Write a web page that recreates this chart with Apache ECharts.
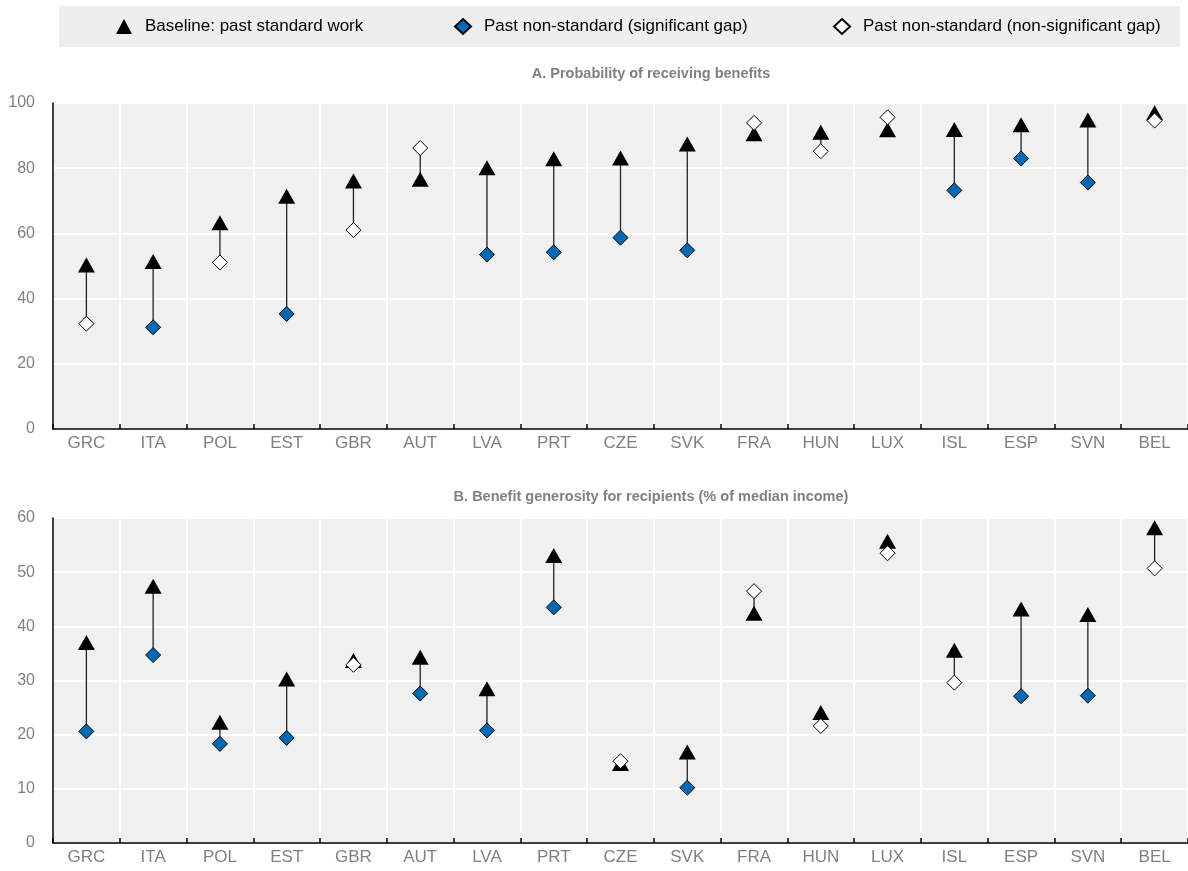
<!DOCTYPE html>
<html>
<head>
<meta charset="utf-8">
<script src="https://cdn.jsdelivr.net/npm/echarts@6/dist/echarts.min.js"></script>
<style>
  html, body { margin: 0; padding: 0; background: #ffffff; }
  #chart { width: 1188px; height: 871px; }
</style>
</head>
<body>
<div id="chart"></div>
<script>
// ---- Data ----
const categories = ['GRC','ITA','POL','EST','GBR','AUT','LVA','PRT','CZE','SVK','FRA','HUN','LUX','ISL','ESP','SVN','BEL'];

// Panel A: Probability of receiving benefits
const probBaseline    = [50.3, 51.4, 63.3, 71.4, 76.1, 76.6, 80.1, 82.9, 83.1, 87.4, 90.6, 91.0, 91.8, 91.9, 93.3, 94.8, 97.0];
const probNonStandard = [32.3, 31.2, 51.1, 35.3, 61.0, 86.2, 53.5, 54.2, 58.7, 54.8, 93.9, 85.2, 95.6, 73.2, 83.0, 75.6, 94.6];
const probSignificant = [0, 1, 0, 1, 0, 0, 1, 1, 1, 1, 0, 0, 0, 1, 1, 1, 0];

// Panel B: Benefit generosity for recipients (% of median income)
const genBaseline    = [37.0, 47.4, 22.3, 30.3, 33.7, 34.3, 28.5, 53.1, 14.7, 16.8, 42.4, 24.1, 55.7, 35.6, 43.2, 42.2, 58.2];
const genNonStandard = [20.6, 34.7, 18.3, 19.4, 32.9, 27.6, 20.8, 43.5, 15.1, 10.2, 46.5, 21.6, 53.5, 29.6, 27.1, 27.2, 50.7];
const genSignificant = [1, 1, 1, 1, 0, 1, 1, 1, 0, 1, 0, 0, 0, 0, 1, 1, 0];

const probTicks = { min: 0, max: 100, interval: 20 };
const genTicks  = { min: 0, max: 60, interval: 10 };

const seriesNames = ['Baseline: past standard work', 'Past non-standard (significant gap)', 'Past non-standard (non-significant gap)'];
const panelTitles = ['A. Probability of receiving benefits', 'B. Benefit generosity for recipients (% of median income)'];

// ---- Styles ----
const FONT = '"Liberation Sans", Arial, Helvetica, sans-serif';
const GREY = '#808080';
const BLUE = '#0069b4';
const PLOT_BG = '#f0f0f0';

function connectorSeries(idx, base, other) {
  return {
    type: 'custom',
    xAxisIndex: idx, yAxisIndex: idx,
    silent: true,
    z: 1,
    data: categories.map((c, i) => [i, base[i], other[i]]),
    encode: { x: 0, y: [1, 2] },
    renderItem: function (params, api) {
      const p1 = api.coord([api.value(0), api.value(1)]);
      const p2 = api.coord([api.value(0), api.value(2)]);
      return {
        type: 'line',
        shape: { x1: p1[0], y1: p1[1], x2: p2[0], y2: p2[1] },
        style: { stroke: '#222222', lineWidth: 1.3 }
      };
    }
  };
}

function panelSeries(idx, base, other, sig) {
  return [
    connectorSeries(idx, base, other),
    {
      name: seriesNames[0], type: 'scatter', xAxisIndex: idx, yAxisIndex: idx, z: 2,
      symbol: 'triangle', symbolSize: [17, 15],
      itemStyle: { color: '#000000', opacity: 1 },
      data: base
    },
    {
      name: seriesNames[1], type: 'scatter', xAxisIndex: idx, yAxisIndex: idx, z: 3,
      symbol: 'diamond', symbolSize: [15, 15],
      itemStyle: { color: BLUE, borderColor: '#000000', borderWidth: 1, opacity: 1 },
      data: other.map((v, i) => sig[i] ? v : '-')
    },
    {
      name: seriesNames[2], type: 'scatter', xAxisIndex: idx, yAxisIndex: idx, z: 3,
      symbol: 'diamond', symbolSize: [15, 15],
      itemStyle: { color: '#ffffff', borderColor: '#000000', borderWidth: 1, opacity: 1 },
      data: other.map((v, i) => sig[i] ? '-' : v)
    }
  ];
}

function xAxis(idx) {
  return {
    type: 'category', gridIndex: idx, data: categories,
    boundaryGap: true,
    axisLine: { show: true, lineStyle: { color: '#000000', width: 1.5 } },
    axisTick: { show: true, inside: true, length: 5, interval: 0, lineStyle: { color: '#000000', width: 1.5 } },
    axisLabel: { interval: 0, margin: 6, color: GREY, fontSize: 17, fontFamily: FONT },
    splitLine: { show: true, interval: 0, lineStyle: { color: '#ffffff', width: 2 } }
  };
}

function yAxis(idx, t) {
  return {
    type: 'value', gridIndex: idx, min: t.min, max: t.max, interval: t.interval,
    axisLine: { show: true, lineStyle: { color: '#000000', width: 1.5 } },
    axisTick: { show: false },
    axisLabel: { margin: 18, color: GREY, fontSize: 16, fontFamily: FONT },
    splitLine: { show: true, lineStyle: { color: '#ffffff', width: 2 } }
  };
}

function legend(name, left, icon) {
  return {
    data: [{ name: name, icon: icon }],
    left: left, top: 18,
    itemWidth: 16, itemHeight: 15,
    selectedMode: false,
    padding: 0,
    textStyle: { color: '#000000', fontSize: 17, fontFamily: FONT, padding: [0, 0, 0, 8] }
  };
}

const chart = echarts.init(document.getElementById('chart'), null, { renderer: 'canvas' });
chart.setOption({
  animation: false,
  backgroundColor: '#ffffff',
  textStyle: { fontFamily: FONT },
  graphic: [{
    type: 'rect', left: 59, top: 6, z: -10,
    shape: { width: 1121, height: 41 },
    style: { fill: '#eeeeee' }
  }],
  legend: [
    legend(seriesNames[0], 116, 'triangle'),
    legend(seriesNames[1], 454, 'diamond'),
    legend(seriesNames[2], 833, 'diamond')
  ],
  title: [
    { text: panelTitles[0], left: 646, top: 61, textAlign: 'center',
      textStyle: { color: GREY, fontSize: 14.5, fontWeight: 'bold', fontFamily: FONT } },
    { text: panelTitles[1], left: 646, top: 484, textAlign: 'center',
      textStyle: { color: GREY, fontSize: 14.5, fontWeight: 'bold', fontFamily: FONT } }
  ],
  grid: [
    { left: 53, top: 103, width: 1138, height: 326, show: true, backgroundColor: PLOT_BG, borderWidth: 0 },
    { left: 53, top: 518, width: 1138, height: 325, show: true, backgroundColor: PLOT_BG, borderWidth: 0 }
  ],
  xAxis: [xAxis(0), xAxis(1)],
  yAxis: [yAxis(0, probTicks), yAxis(1, genTicks)],
  series: [].concat(
    panelSeries(0, probBaseline, probNonStandard, probSignificant),
    panelSeries(1, genBaseline, genNonStandard, genSignificant)
  )
});
</script>
</body>
</html>
